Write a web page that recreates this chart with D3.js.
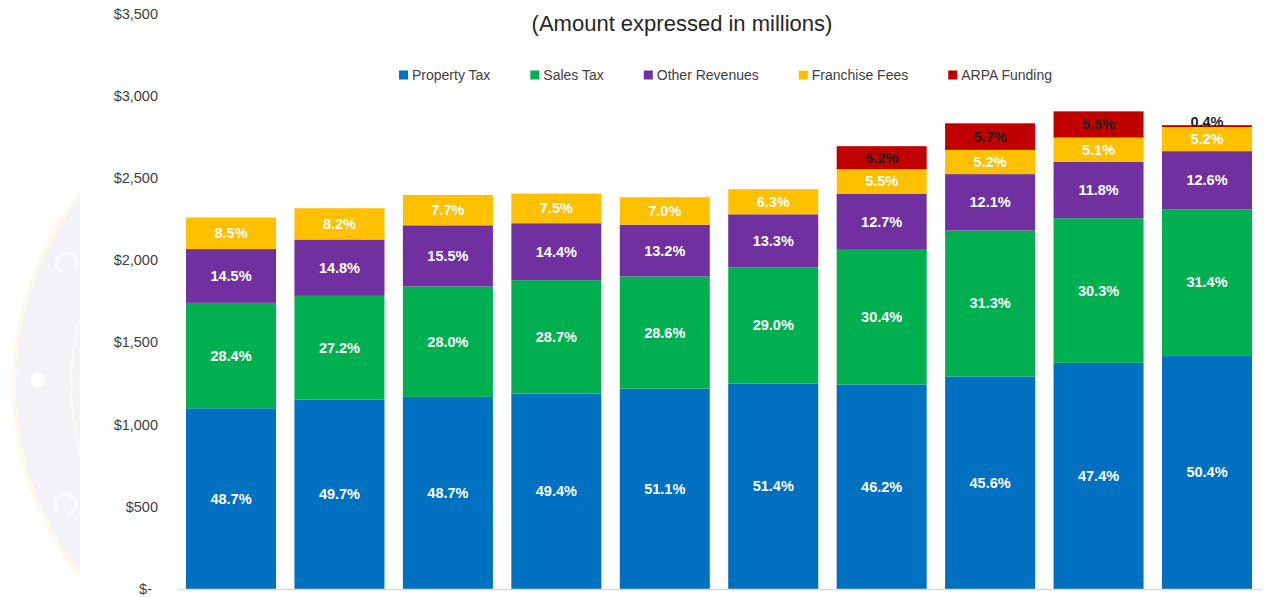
<!DOCTYPE html>
<html>
<head>
<meta charset="utf-8">
<script src="https://cdn.jsdelivr.net/npm/d3@7"></script>
<style>
  html, body { margin: 0; padding: 0; background: #fff; }
  svg { display: block; }
  text { font-family: "Liberation Sans", Arial, sans-serif; }
</style>
</head>
<body>
<svg id="chart" width="1268" height="597"></svg>
<script>
// Revenue composition by year, stacked by source (amounts in millions)
const periods = ["Y1", "Y2", "Y3", "Y4", "Y5", "Y6", "Y7", "Y8", "Y9", "Y10"];
const totals  = [2257, 2318, 2399, 2405, 2385, 2432, 2693, 2835, 2902, 2821];

// Share of each year's total, in percent
const propertyTax    = [48.7, 49.7, 48.7, 49.4, 51.1, 51.4, 46.2, 45.6, 47.4, 50.4];
const salesTax       = [28.4, 27.2, 28.0, 28.7, 28.6, 29.0, 30.4, 31.3, 30.3, 31.4];
const otherRevenues  = [14.5, 14.8, 15.5, 14.4, 13.2, 13.3, 12.7, 12.1, 11.8, 12.6];
const franchiseFees  = [8.5, 8.2, 7.7, 7.5, 7.0, 6.3, 5.5, 5.2, 5.1, 5.2];
const arpaFunding    = [0, 0, 0, 0, 0, 0, 5.2, 5.7, 5.5, 0.4];

const seriesNames  = ["Property Tax", "Sales Tax", "Other Revenues", "Franchise Fees", "ARPA Funding"];
const seriesShares = [propertyTax, salesTax, otherRevenues, franchiseFees, arpaFunding];
const seriesColors = ["#0070C0", "#00B050", "#7030A0", "#FFC000", "#C00000"];
const labelColors  = ["#ffffff", "#ffffff", "#ffffff", "#ffffff", "#1f1f1f"];
const yTicks = [0, 500, 1000, 1500, 2000, 2500, 3000, 3500];

const svg = d3.select("#chart");

// Faint seal in the page background, left of the plot
const defs = svg.append("defs");
defs.append("clipPath").attr("id", "sealClip")
  .append("rect").attr("x", 0).attr("y", 0).attr("width", 80).attr("height", 597);
const seal = svg.append("g").attr("clip-path", "url(#sealClip)");
const sc = { x: 322, y: 385 };
seal.append("circle").attr("cx", sc.x).attr("cy", sc.y).attr("r", 308)
  .attr("fill", "#f3f3f7").attr("stroke", "#fdf8e9").attr("stroke-width", 4);
seal.append("circle").attr("cx", sc.x).attr("cy", sc.y).attr("r", 251)
  .attr("fill", "none").attr("stroke", "#fcf9ee").attr("stroke-width", 2.5);
seal.append("circle").attr("cx", 38).attr("cy", 380).attr("r", 8).attr("fill", "#fdfdfe");
[[66, 262, 62], [66, 503, 118]].forEach(([lx, ly, rot]) => {
  seal.append("text").attr("x", lx).attr("y", ly)
    .attr("transform", `rotate(${rot},${lx},${ly})`)
    .attr("text-anchor", "middle").attr("dominant-baseline", "central")
    .attr("font-family", "Liberation Serif, serif").attr("font-size", 32)
    .attr("fill", "#fbfbfd").text("C");
});

// Scales
const x = d3.scaleBand().domain(periods).range([177, 1261])
  .paddingInner(0.17).paddingOuter(0.083);
const y = d3.scaleLinear().domain([0, 3500]).range([589, 13.5]);

// Stack rows built from totals and shares
const rows = periods.map((p, i) => {
  const r = { period: p };
  seriesNames.forEach((s, k) => { r[s] = totals[i] * seriesShares[k][i] / 100; });
  return r;
});
const stacked = d3.stack().keys(seriesNames)(rows);

// Y axis labels (accounting style)
const yAxis = d3.axisLeft(y).tickValues(yTicks).tickSize(0).tickPadding(19)
  .tickFormat(v => v === 0 ? "$-" : d3.format("$,")(v));
const gy = svg.append("g").attr("transform", "translate(177,0)").call(yAxis);
gy.select(".domain").remove();
gy.selectAll("text").attr("font-family", "Liberation Sans, Arial, sans-serif")
  .attr("font-size", 14.5).attr("fill", "#404040")
  .attr("dx", v => v === 0 ? -6 : 0);

// Bars
const layers = svg.append("g").selectAll("g").data(stacked).join("g")
  .attr("fill", (d, k) => seriesColors[k]);
layers.selectAll("rect").data(d => d.filter(seg => seg[1] - seg[0] > 0)).join("rect")
  .attr("x", d => x(d.data.period))
  .attr("width", x.bandwidth())
  .attr("y", d => y(d[1]))
  .attr("height", d => y(d[0]) - y(d[1]));

// Baseline
const xAxis = d3.axisBottom(x).tickSize(0).tickFormat("");
const gx = svg.append("g").attr("transform", "translate(0,589)").call(xAxis);
gx.select(".domain").attr("stroke", "#d9d9d9").attr("stroke-width", 1.5);

// Segment percentage labels; slivers too thin for text get it just above the bar
const labels = svg.append("g");
stacked.forEach((layer, k) => {
  layer.forEach((seg, i) => {
    const share = seriesShares[k][i];
    if (!(share > 0)) return;
    const h = y(seg[0]) - y(seg[1]);
    const t = labels.append("text")
      .attr("x", x(seg.data.period) + x.bandwidth() / 2)
      .attr("text-anchor", "middle")
      .attr("font-size", 14.5)
      .attr("font-weight", "bold")
      .attr("fill", labelColors[k])
      .text(d3.format(".1f")(share) + "%");
    if (h < 12) {
      t.attr("y", y(seg[1]) + 1.5);
    } else {
      t.attr("y", (y(seg[0]) + y(seg[1])) / 2).attr("dominant-baseline", "central");
    }
  });
});

// Title
svg.append("text").attr("x", 682).attr("y", 31)
  .attr("text-anchor", "middle").attr("font-size", 22).attr("fill", "#262626")
  .text("(Amount expressed in millions)");

// Legend
const legend = svg.append("g").attr("transform", "translate(399,75)");
let lx = 0;
seriesNames.forEach((name, k) => {
  const item = legend.append("g").attr("transform", `translate(${lx},0)`);
  item.append("rect").attr("x", 0).attr("y", -4.5).attr("width", 9).attr("height", 9)
    .attr("fill", seriesColors[k]);
  const t = item.append("text").attr("x", 13).attr("y", 0)
    .attr("dominant-baseline", "central").attr("font-size", 14).attr("fill", "#404040")
    .text(name);
  lx += 13 + t.node().getComputedTextLength() + 40;
});
</script>
</body>
</html>
